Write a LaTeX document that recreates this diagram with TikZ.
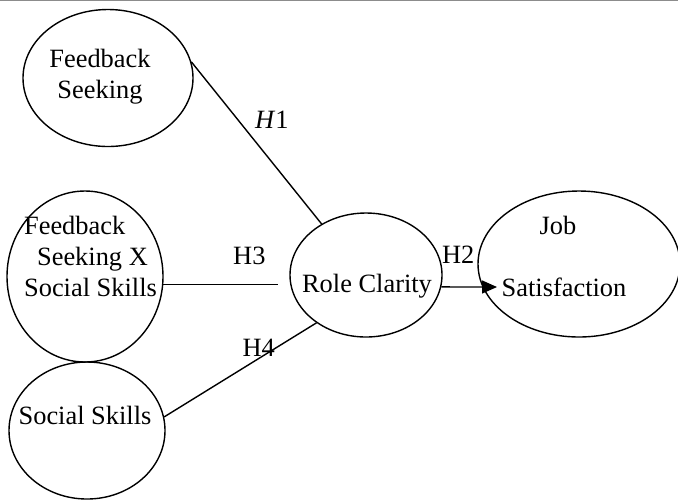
\documentclass[tikz,border=0pt]{standalone}
\usepackage{fontspec}
\setmainfont{Liberation Serif}
\usetikzlibrary{shapes.geometric, arrows.meta, positioning}

\tikzset{
    construct/.style={draw, ellipse, line width=0.7pt, inner sep=0pt},
    hyp/.style={font=\fontsize{13.2}{15.5}\selectfont},
    path/.style={line width=0.7pt}
}

\begin{document}
\begin{tikzpicture}[x=0.5pt, y=-0.5pt, font=\fontsize{13.2}{15.5}\selectfont]
    \useasboundingbox (0,0) rectangle (678,500);

        % Top rule
        \draw[gray!90, line width=0.5pt] (0,0.5) -- (678,0.5);

        % Constructs
        \node[construct, minimum width=85pt, minimum height=68.5pt,
              label={[xshift=-4pt, yshift=0.5pt, align=center]center:Feedback\\Seeking}]
              (fs) at (108,78) {};
        \node[construct, minimum width=78pt, minimum height=85.5pt,
              label={[xshift=2.75pt, yshift=10.25pt, align=left]center:Feedback\\\hspace*{6.5pt}Seeking X\\Social Skills}]
              (fsx) at (85,276.5) {};
        \node[construct, minimum width=78pt, minimum height=68.5pt,
              label={[xshift=-1pt, yshift=7.75pt]center:Social Skills}]
              (ss) at (87,430.5) {};
        \node[construct, minimum width=76pt, minimum height=62pt,
              label={[xshift=0.5pt, yshift=-5.5pt]center:Role Clarity}]
              (rc) at (366,275) {};
        \node[construct, minimum width=101pt, minimum height=73pt,
              label={[xshift=-7.5pt, yshift=4pt, align=center]center:\hspace*{-6pt}Job\\[15.5pt]Satisfaction}]
              (js) at (579,264) {};

        % Paths
        \draw[path] (fs.11) -- (rc.131)
            node[hyp, midway, xshift=7.75pt, yshift=11.5pt] {\textit{H}1};
        \draw[path, shorten >=5.5pt] (fsx.-6) -- (fsx.-6 -| rc.west)
            node[hyp, midway, xshift=11.5pt, yshift=14.5pt] {H3};
        \draw[path] (ss.10) -- (rc.224)
            node[hyp, midway, xshift=9.25pt, yshift=11pt] {H4};

        % Arrow into the outcome
        \coordinate (h2end) at (497,287);
        \draw[path, -{Triangle[length=7.5pt, width=6.5pt]}] (rc.-9) -- (h2end)
            node[hyp, midway, xshift=-5.5pt, yshift=16pt] {H2};

\end{tikzpicture}
\end{document}
